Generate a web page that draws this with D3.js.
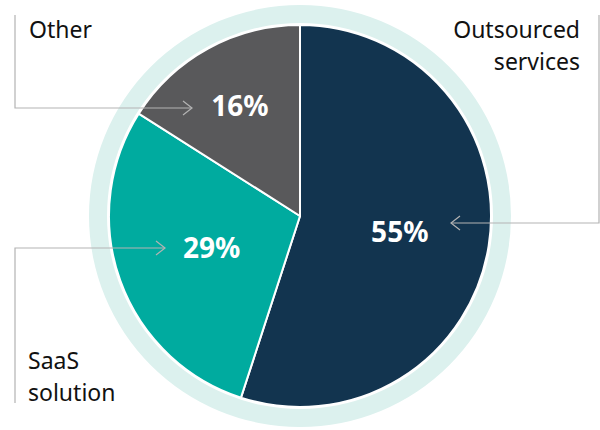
<!DOCTYPE html>
<meta charset="utf-8">
<script src="https://d3js.org/d3.v7.min.js"></script>
<style>
  body { margin: 0; background: #fff; }
  text { font-family: 'Noto Sans', 'Lato', sans-serif; }
</style>
<body>
<div id="chart"></div>
<script>

// data
var categories = ["Outsourced services", "SaaS solution", "Other"];
var shares = [55, 29, 16];
var colors = ["#12344f", "#00ab9f", "#59595b"];

var width = 600, height = 430,
    cx = 300, cy = 216,
    radius = 191;

// label distance from the centre, per slice
var labelRadius = [101, 94, 125];

var svg = d3.select("#chart")
  .append("svg")
    .attr("width", width)
    .attr("height", height);

var g = svg.append("g")
  .attr("transform", "translate(" + cx + "," + cy + ")");

// light outer ring
g.append("path")
  .attr("d", d3.arc().innerRadius(radius + 2).outerRadius(radius + 20)
    .startAngle(0).endAngle(2 * Math.PI)())
  .attr("fill", "#dcf1ee");

var pie = d3.pie().sort(null).value(function(d) { return d; });
var arcs = pie(shares);
var arc = d3.arc().innerRadius(0).outerRadius(radius);

g.selectAll("path.slice")
  .data(arcs)
  .enter().append("path")
    .attr("class", "slice")
    .attr("d", arc)
    .attr("fill", function(d, i) { return colors[i]; })
    .attr("stroke", "#fff")
    .attr("stroke-width", 2)
    .attr("stroke-linejoin", "round");

// percentage labels
g.selectAll("text.pct")
  .data(arcs)
  .enter().append("text")
    .attr("class", "pct")
    .attr("transform", function(d, i) {
      var c = d3.arc().innerRadius(labelRadius[i]).outerRadius(labelRadius[i]).centroid(d);
      return "translate(" + c[0] + "," + (c[1] + 10) + ")";
    })
    .attr("text-anchor", "middle")
    .attr("fill", "#fff")
    .style("font-size", "28px")
    .style("font-weight", "bold")
    .text(function(d) { return d.data + "%"; });

// leader lines
var lineColor = "#b3b3b3";
var leaders = [
  { pts: [[599, 15], [599, 223], [451, 223]], dir: -1 },
  { pts: [[15, 403], [15, 248], [165, 248]], dir: 1 },
  { pts: [[15, 15], [15, 108], [192, 108]], dir: 1 }
];
leaders.forEach(function(l) {
  svg.append("path")
    .attr("d", d3.line()(l.pts))
    .attr("fill", "none")
    .attr("stroke", lineColor)
    .attr("stroke-width", 1.2);
  var tip = l.pts[2];
  svg.append("path")
    .attr("d", d3.line()([[tip[0] - l.dir * 9, tip[1] - 7], tip, [tip[0] - l.dir * 9, tip[1] + 7]]))
    .attr("fill", "none")
    .attr("stroke", lineColor)
    .attr("stroke-width", 1.2);
});

// category labels
var catLabels = [
  { lines: ["Outsourced", "services"], x: 580, y: 38, anchor: "end" },
  { lines: ["SaaS", "solution"], x: 28, y: 369, anchor: "start" },
  { lines: ["Other"], x: 29, y: 38, anchor: "start" }
];
catLabels.forEach(function(c) {
  var t = svg.append("text")
    .attr("x", c.x).attr("y", c.y)
    .attr("text-anchor", c.anchor)
    .attr("fill", "#111")
    .style("font-size", "23px");
  c.lines.forEach(function(s, j) {
    t.append("tspan").attr("x", c.x).attr("dy", j ? 32 : 0).text(s);
  });
});

</script>
</body>
